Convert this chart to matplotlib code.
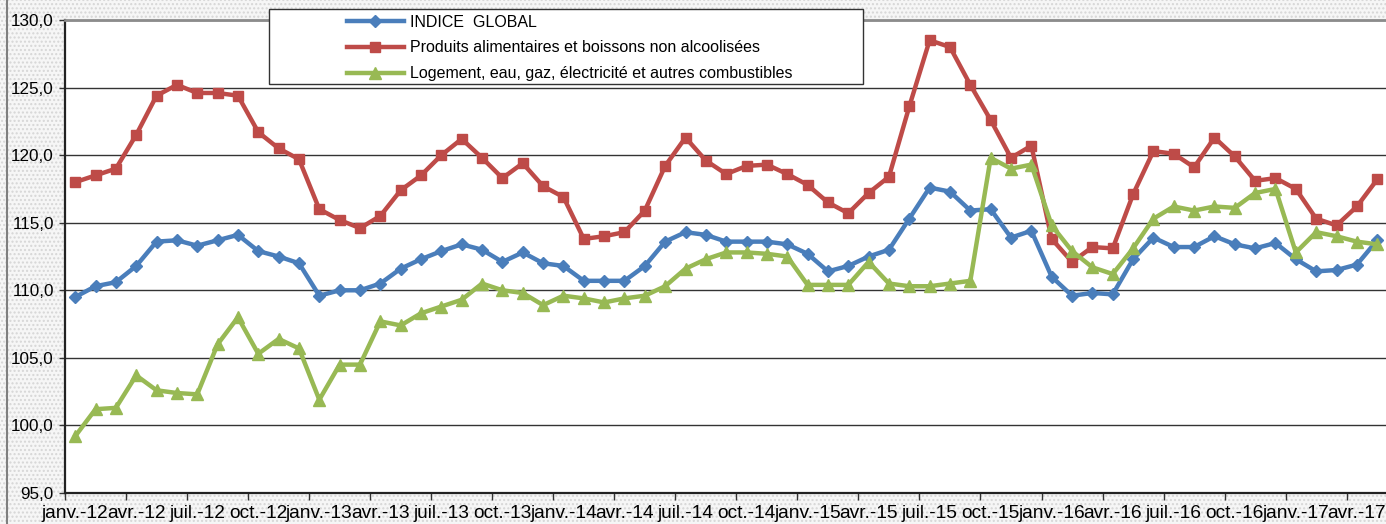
import matplotlib
matplotlib.use("Agg")
import matplotlib.pyplot as plt
from matplotlib.patches import Rectangle
from matplotlib.lines import Line2D
from matplotlib.ticker import FixedLocator, FuncFormatter

plt.rcParams['font.family'] = ['Liberation Sans', 'DejaVu Sans']

months = ["janv.", "févr.", "mars", "avr.", "mai", "juin", "juil.", "août", "sept.", "oct.", "nov.", "déc."]
years = ["12", "13", "14", "15", "16", "17"]
categories = [f"{m}-{y}" for y in years for m in months][:65]

indice_global = [
    109.5, 110.3, 110.6, 111.8, 113.6, 113.7, 113.3, 113.7, 114.1, 112.9, 112.5, 112.0,
    109.6, 110.0, 110.0, 110.5, 111.6, 112.3, 112.9, 113.4, 113.0, 112.1, 112.8, 112.0,
    111.8, 110.7, 110.7, 110.7, 111.8, 113.6, 114.3, 114.1, 113.6, 113.6, 113.6, 113.4,
    112.7, 111.4, 111.8, 112.5, 113.0, 115.3, 117.6, 117.3, 115.9, 116.0, 113.9, 114.4,
    111.0, 109.6, 109.8, 109.7, 112.3, 113.9, 113.2, 113.2, 114.0, 113.4, 113.1, 113.5,
    112.3, 111.4, 111.5, 111.9, 113.7,
]
produits_alimentaires = [
    118.0, 118.5, 119.0, 121.5, 124.4, 125.2, 124.6, 124.6, 124.4, 121.7, 120.5, 119.7,
    116.0, 115.2, 114.6, 115.5, 117.4, 118.5, 120.0, 121.2, 119.8, 118.3, 119.4, 117.7,
    116.9, 113.8, 114.0, 114.3, 115.9, 119.2, 121.3, 119.6, 118.6, 119.2, 119.3, 118.6,
    117.8, 116.5, 115.7, 117.2, 118.4, 123.6, 128.5, 128.0, 125.2, 122.6, 119.8, 120.7,
    113.8, 112.1, 113.2, 113.1, 117.1, 120.3, 120.1, 119.1, 121.3, 119.9, 118.1, 118.3,
    117.5, 115.3, 114.8, 116.2, 118.2,
]
logement = [
    99.2, 101.2, 101.3, 103.7, 102.6, 102.4, 102.3, 106.0, 108.0, 105.3, 106.4, 105.7,
    101.9, 104.5, 104.5, 107.7, 107.4, 108.3, 108.8, 109.3, 110.5, 110.0, 109.8, 108.9,
    109.6, 109.4, 109.1, 109.4, 109.6, 110.3, 111.6, 112.3, 112.8, 112.8, 112.7, 112.5,
    110.4, 110.4, 110.4, 112.1, 110.5, 110.3, 110.3, 110.5, 110.7, 119.8, 119.0, 119.3,
    114.8, 112.9, 111.7, 111.2, 113.1, 115.3, 116.2, 115.9, 116.2, 116.1, 117.2, 117.5,
    112.8, 114.3, 114.0, 113.6, 113.4,
]
series_names = [
    "INDICE  GLOBAL",
    "Produits alimentaires et boissons non alcoolisées",
    "Logement, eau, gaz, électricité et autres combustibles",
]
y_ticks = [95, 100, 105, 110, 115, 120, 125, 130]

W, H = 1386, 524
fig = plt.figure(figsize=(W / 100, H / 100), dpi=100)
fig.patch.set_facecolor('white')
bg = Rectangle((0, 0), 1, 1, transform=fig.transFigure, facecolor='#f6f6f6',
               edgecolor='#d6d6d6', hatch='....', lw=0, zorder=-10)
fig.patches.append(bg)
fig.add_artist(Line2D([7 / W, 7 / W], [0, 1], transform=fig.transFigure,
                      color='#7f7f7f', lw=1.5))

ax = fig.add_axes([65 / W, (H - 493) / H, (W - 65) / W + 0.001, (493 - 20) / H])
ax.set_facecolor('white')

x = list(range(len(categories)))
colors = ['#4a7ebb', '#be4b48', '#98b954']
markers = ['D', 's', '^']
msizes = [6, 7, 8]
data = [indice_global, produits_alimentaires, logement]
handles = []
for i, (vals, c, m, ms, name) in enumerate(zip(data, colors, markers, msizes, series_names)):
    h, = ax.plot(x, vals, color=c, lw=3.2, marker=m, markersize=ms,
                 markeredgecolor=c, markerfacecolor=c, label=name, zorder=3 + i,
                 solid_joinstyle='round')
    handles.append(h)

ax.set_xlim(-0.5, len(categories) - 0.5)
ax.set_ylim(95, 130)
ax.set_yticks(y_ticks)
ax.yaxis.set_major_formatter(FuncFormatter(lambda v, p: f"{v:.1f}".replace('.', ',')))
ax.grid(axis='y', color='#333333', lw=1.0)
ax.set_axisbelow(True)

label_pos = list(range(0, len(categories), 3))
ax.xaxis.set_major_locator(FixedLocator(label_pos))
ax.set_xticklabels([categories[i] for i in label_pos])
ax.xaxis.set_minor_locator(FixedLocator([p - 0.5 for p in label_pos]))
ax.tick_params(axis='x', which='major', length=0, pad=9, labelsize=13.8)
ax.tick_params(axis='x', which='minor', length=5, width=1, color='#333333')
ax.tick_params(axis='y', length=4, width=1, color='#333333', pad=4, labelsize=12.3)

for s in ['left', 'bottom']:
    ax.spines[s].set_color('#222222')
    ax.spines[s].set_linewidth(1.6)
ax.spines['top'].set_color('#8c8c8c')
ax.spines['top'].set_linewidth(2.0)
ax.spines['right'].set_visible(False)

# legend frame (figure-level, as in the reference)
frame = Rectangle((269 / W, (H - 84) / H), (863 - 269) / W, (84 - 9) / H,
                  transform=fig.transFigure, facecolor='white', edgecolor='#333333',
                  lw=1.0, zorder=20)
fig.add_artist(frame)
leg = fig.legend(handles=handles, labels=series_names, loc='upper left',
                 bbox_to_anchor=(333 / W, (H - 1) / H), frameon=False,
                 fontsize=11.5, handlelength=3.6, handletextpad=0.35,
                 labelspacing=0.68, borderpad=0.35)
leg.set_zorder(21)

fig.savefig("out.png", dpi=100)
